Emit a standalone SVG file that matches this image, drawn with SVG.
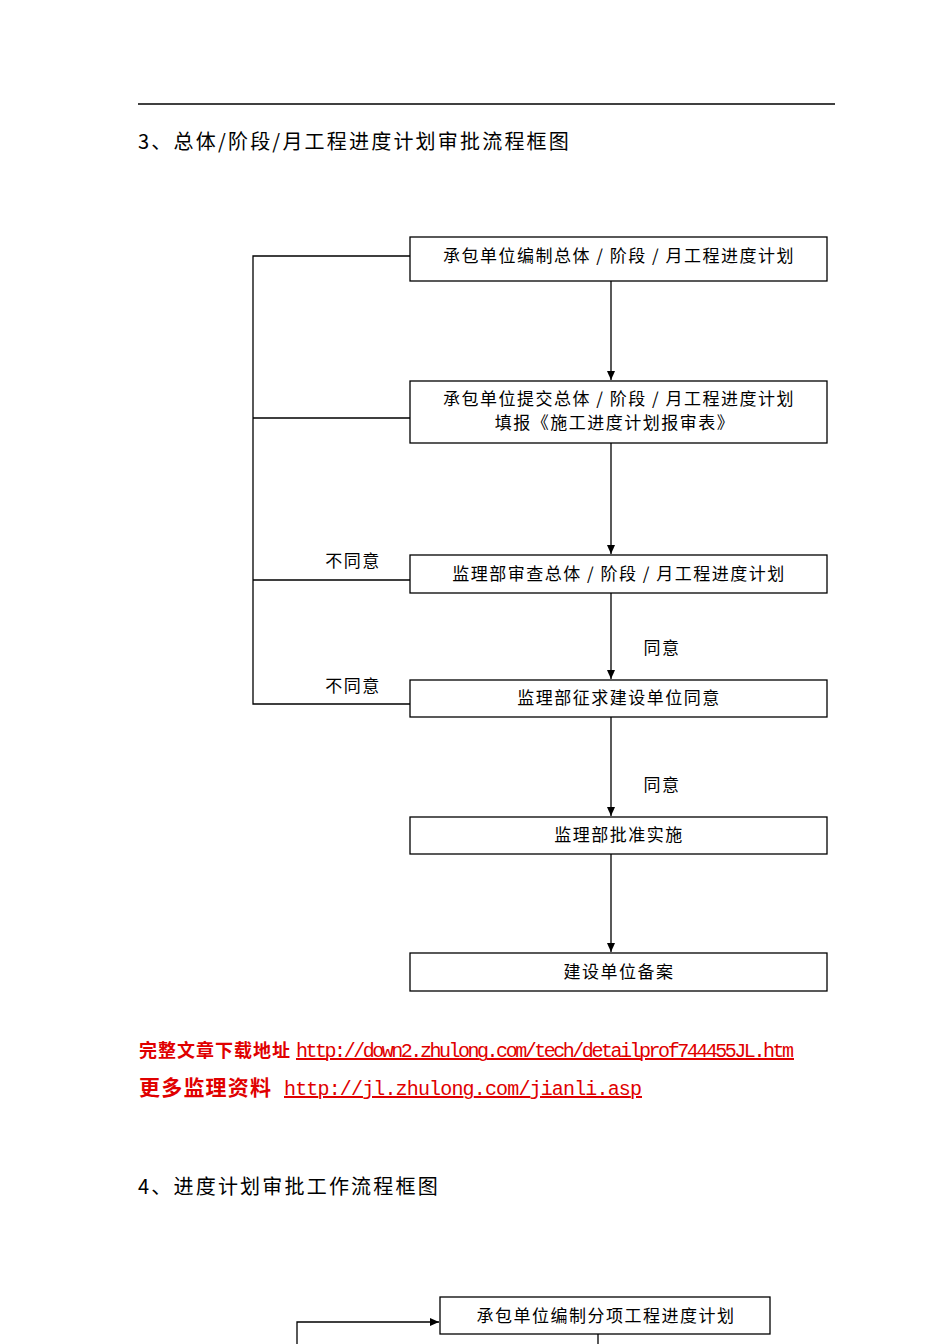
<svg xmlns="http://www.w3.org/2000/svg" width="950" height="1344" viewBox="0 0 950 1344">
<style>
.b{fill:#fff;stroke:#000;stroke-width:1.3}
.t{font-family:"Noto Sans CJK SC",sans-serif;font-size:17px;fill:#000;text-anchor:middle;letter-spacing:1.5px}
.h{font-family:"Noto Sans CJK SC",sans-serif;font-size:20px;fill:#000;letter-spacing:2.2px}
.l{fill:none;stroke:#000;stroke-width:1.3}
.r{fill:#e00000;font-weight:bold}
.u{font-family:"Liberation Mono",monospace;font-size:20px;fill:#e00000;text-decoration:underline;letter-spacing:0}
</style>
<defs><marker id="a" markerWidth="10" markerHeight="10" refX="9" refY="5" orient="auto" markerUnits="userSpaceOnUse"><path d="M0,1 L9,5 L0,9 z" fill="#000"/></marker></defs>
<rect width="950" height="1344" fill="#fff"/>
<line x1="138" y1="104" x2="835" y2="104" stroke="#000" stroke-width="1.3"/>
<text class="h" x="138" y="149">3、总体/阶段/月工程进度计划审批流程框图</text>
<g id="connectors">
<path class="l" d="M611,281 V380" marker-end="url(#a)"/>
<path class="l" d="M611,443 V554" marker-end="url(#a)"/>
<path class="l" d="M611,593 V679" marker-end="url(#a)"/>
<path class="l" d="M611,717 V816" marker-end="url(#a)"/>
<path class="l" d="M611,854 V952" marker-end="url(#a)"/>
<path class="l" d="M410,256 H253 V704 H410 M253,418 H410 M253,580 H410"/>
<path class="l" d="M297,1344 V1322 H439" marker-end="url(#a)"/>
<path class="l" d="M598,1334 V1344"/>
</g>
<g id="labels">
<text class="t" x="353" y="567">不同意</text>
<text class="t" x="353" y="692">不同意</text>
<text class="t" x="662" y="654">同意</text>
<text class="t" x="662" y="791">同意</text>
</g>
<g id="n1"><rect class="b" x="410" y="237" width="417" height="44"/><text class="t" x="619" y="262">承包单位编制总体 / 阶段 / 月工程进度计划</text></g>
<g id="n2"><rect class="b" x="410" y="381" width="417" height="62"/><text class="t" x="619" y="405">承包单位提交总体 / 阶段 / 月工程进度计划</text><text class="t" x="615" y="429">填报《施工进度计划报审表》</text></g>
<g id="n3"><rect class="b" x="410" y="555" width="417" height="38"/><text class="t" x="619" y="580">监理部审查总体 / 阶段 / 月工程进度计划</text></g>
<g id="n4"><rect class="b" x="410" y="680" width="417" height="37"/><text class="t" x="619" y="704">监理部征求建设单位同意</text></g>
<g id="n5"><rect class="b" x="410" y="817" width="417" height="37"/><text class="t" x="619" y="841">监理部批准实施</text></g>
<g id="n6"><rect class="b" x="410" y="953" width="417" height="38"/><text class="t" x="619" y="978">建设单位备案</text></g>
<text x="139" y="1057" class="h r" style="font-size:18px;letter-spacing:1px">完整文章下载地址</text>
<text x="296" y="1057" class="u" textLength="498">http://down2.zhulong.com/tech/detailprof744455JL.htm</text>
<text x="139" y="1095" class="h r" style="font-size:21px;letter-spacing:1.2px">更多监理资料</text>
<text x="284" y="1095" class="u" textLength="358">http://jl.zhulong.com/jianli.asp</text>
<text class="h" x="138" y="1194">4、进度计划审批工作流程框图</text>
<g id="n7"><rect class="b" x="440" y="1297" width="330" height="37"/><text class="t" x="606" y="1322">承包单位编制分项工程进度计划</text></g>
</svg>
